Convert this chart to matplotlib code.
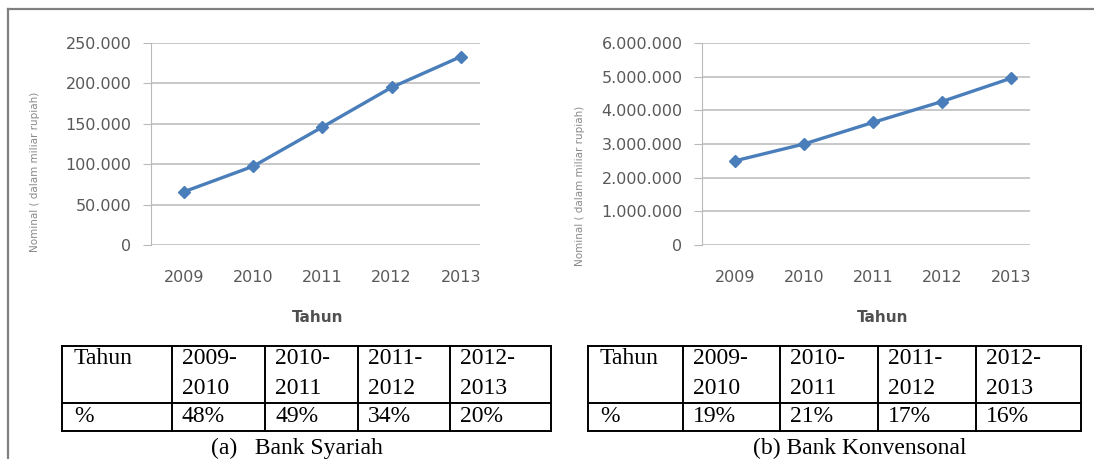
import matplotlib
matplotlib.use("Agg")
import matplotlib.pyplot as plt

years = ["2009", "2010", "2011", "2012", "2013"]
syariah = [66000, 97500, 146000, 195000, 233000]
konvensional = [2500000, 3000000, 3640000, 4260000, 4950000]

periods = ["2009-\n2010", "2010-\n2011", "2011-\n2012", "2012-\n2013"]
pct_syariah = ["48%", "49%", "34%", "20%"]
pct_konv = ["19%", "21%", "17%", "16%"]

W, H = 1094, 459
fig = plt.figure(figsize=(W / 100, H / 100), dpi=100)

line_col = "#4a7ebb"
grid_col = "#b9b9b9"
txt_col = "#595959"


def fmt(v):
    # thousands separated with dots
    return f"{int(v):,}".replace(",", ".")


def chart(x0, x1, vals, ymax, step, title_x, ylab_pos):
    ax = fig.add_axes([x0 / W, 1 - 245 / H, (x1 - x0) / W, 202 / H])
    xs = list(range(len(years)))
    ax.plot(xs, vals, color=line_col, lw=2.4, marker="D", ms=6.5, zorder=3)
    ax.set_xlim(-0.48, 4.28)
    ax.set_ylim(0, ymax)
    ticks = list(range(0, ymax + 1, step))
    ax.set_yticks(ticks)
    ax.set_yticklabels([fmt(t) for t in ticks])
    ax.set_xticks(xs)
    ax.set_xticklabels(years)
    ax.grid(axis="y", color=grid_col, lw=1.1)
    ax.set_axisbelow(True)
    for s in ["top", "right", "bottom"]:
        ax.spines[s].set_visible(False)
    ax.spines["left"].set_color(grid_col)
    ax.tick_params(axis="y", length=6, color=grid_col, pad=8,
                   labelsize=11.5, labelcolor=txt_col)
    ax.tick_params(axis="x", length=0, pad=18, labelsize=11.5, labelcolor=txt_col)
    fig.text(title_x / W, 1 - 317 / H, "Tahun", ha="center", va="center",
             fontsize=11, fontweight="bold", color="#505050")
    fig.text(ylab_pos[0] / W, 1 - ylab_pos[1] / H,
             "Nominal ( dalam miliar rupiah)", rotation=90, ha="center",
             va="center", fontsize=7.5, color="#8a8a8a")
    return ax


chart(151, 480, syariah, 250000, 50000, 318, (35, 172))
chart(702, 1030, konvensional, 6000000, 1000000, 883, (580, 186))

# overlay in pixel coords for the frame and the tables
ov = fig.add_axes([0, 0, 1, 1])
ov.set_xlim(0, W)
ov.set_ylim(H, 0)
ov.axis("off")
ov.patch.set_alpha(0)

ov.plot([8, W], [9, 9], color="#808080", lw=1.6)
ov.plot([8, 8], [9, H], color="#808080", lw=1.6)


def table(cols, pcts, caption, cap_x):
    top, mid, bot = 346, 403, 431
    for x in cols:
        ov.plot([x, x], [top, bot], color="black", lw=1.4)
    for y in (top, mid, bot):
        ov.plot([cols[0], cols[-1]], [y, y], color="black", lw=1.4)
    font = dict(family="Liberation Serif", fontsize=17, color="black")
    ov.text(cols[0] + 12, 358, "Tahun", va="center", **font)
    ov.text(cols[0] + 12, 417, "%", va="center", **font)
    for i, (p, v) in enumerate(zip(periods, pcts)):
        a, b = p.split("\n")
        ov.text(cols[i + 1] + 10, 358, a, va="center", **font)
        ov.text(cols[i + 1] + 10, 388, b, va="center", **font)
        ov.text(cols[i + 1] + 10, 417, v, va="center", **font)
    ov.text(cap_x, 448, caption, ha="center", va="center", **font)


table([62, 172, 265, 358, 450, 551], pct_syariah, "(a)   Bank Syariah", 297)
table([588, 683, 780, 878, 976, 1081], pct_konv, "(b) Bank Konvensonal", 860)

fig.savefig("out.png", dpi=100)
